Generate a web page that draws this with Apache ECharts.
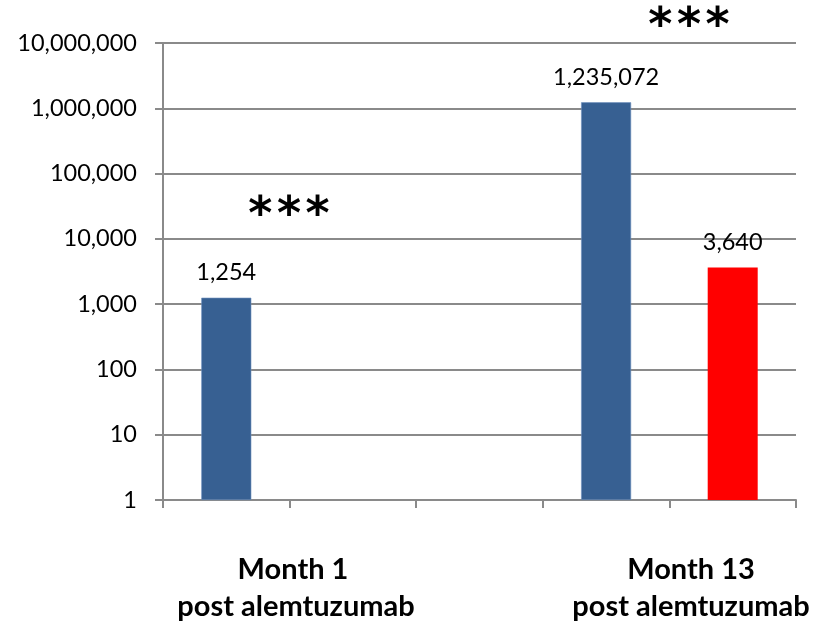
<!DOCTYPE html>
<html>
<head>
<meta charset="utf-8">
<script src="https://cdn.jsdelivr.net/npm/echarts@6/dist/echarts.min.js"></script>
<style>
  html, body { margin: 0; padding: 0; background: #ffffff; }
  #chart { width: 832px; height: 624px; }
</style>
</head>
<body>
<div id="chart"></div>
<script>
// Category slots along the x axis (two time points, each with spacer slots)
const categories = ['m1-pre', 'm1-gap', 'mid', 'm13-pre', 'm13-post'];
// Cell counts (log scale)
const blueValues = [1254, null, null, 1235072, null];
const redValues = [null, null, null, null, 3640];
// Y axis range (decades)
const yMin = 1;
const yMax = 10000000;
// Group labels under the axis
const groupTitles = ['Month 1', 'Month 13'];
const groupSub = ['post alemtuzumab', 'post alemtuzumab'];
// Significance marks
const sigMarks = ['*\u200A*\u200A*', '*\u200A*\u200A*'];

const fmt = v => Number(v).toLocaleString('en-US');
const FONT = 'Lato';
const GRID_COLOR = '#8a8a8a';

const chart = echarts.init(document.getElementById('chart'), null, { renderer: 'canvas' });

const labelStyle = {
  show: true,
  position: 'top',
  distance: 13,
  color: '#000',
  fontFamily: FONT,
  fontSize: 23.5,
  formatter: p => fmt(p.value)
};

const groupText = (x, y, text) => ({
  type: 'text', x, y,
  style: { text, fontFamily: FONT, fontWeight: 'bold', fontSize: 29, fill: '#000', textAlign: 'center', textVerticalAlign: 'middle' }
});
const starText = (x, y, text) => ({
  type: 'text', x, y,
  style: { text, fontFamily: 'DejaVu Sans', fontWeight: 'bold', fontSize: 46, fill: '#000', textAlign: 'center', textVerticalAlign: 'middle' }
});

chart.setOption({
  animation: false,
  backgroundColor: '#ffffff',
  grid: { left: 163, right: 36, top: 43, bottom: 124, containLabel: false },
  xAxis: {
    type: 'category',
    data: categories,
    boundaryGap: true,
    axisLine: { show: true, lineStyle: { color: GRID_COLOR, width: 2 } },
    axisTick: { show: true, length: 8, lineStyle: { color: GRID_COLOR, width: 2 } },
    axisLabel: { show: false },
    splitLine: { show: false }
  },
  yAxis: {
    type: 'log',
    logBase: 10,
    min: yMin,
    max: yMax,
    axisLine: { show: true, lineStyle: { color: GRID_COLOR, width: 2 } },
    axisTick: { show: true, length: 8, lineStyle: { color: GRID_COLOR, width: 2 } },
    axisLabel: {
      margin: 26,
      color: '#000',
      fontFamily: FONT,
      fontSize: 23.5,
      formatter: v => fmt(v)
    },
    splitLine: { show: true, lineStyle: { color: GRID_COLOR, width: 2 } },
    minorTick: { show: false },
    minorSplitLine: { show: false }
  },
  series: [
    {
      name: 'blue',
      type: 'bar',
      data: blueValues,
      barWidth: 50,
      barGap: '-100%',
      itemStyle: { color: '#376092', borderColor: '#6f90bd', borderWidth: 0.6 },
      label: labelStyle
    },
    {
      name: 'red',
      type: 'bar',
      data: redValues,
      barWidth: 50,
      itemStyle: { color: '#ff0000' },
      label: labelStyle
    }
  ],
  graphic: [
    starText(289, 217, sigMarks[0]),
    starText(689, 28, sigMarks[1]),
    groupText(293, 570, groupTitles[0]),
    groupText(296, 607, groupSub[0]),
    groupText(691, 570, groupTitles[1]),
    groupText(691, 607, groupSub[1])
  ]
});
</script>
</body>
</html>
